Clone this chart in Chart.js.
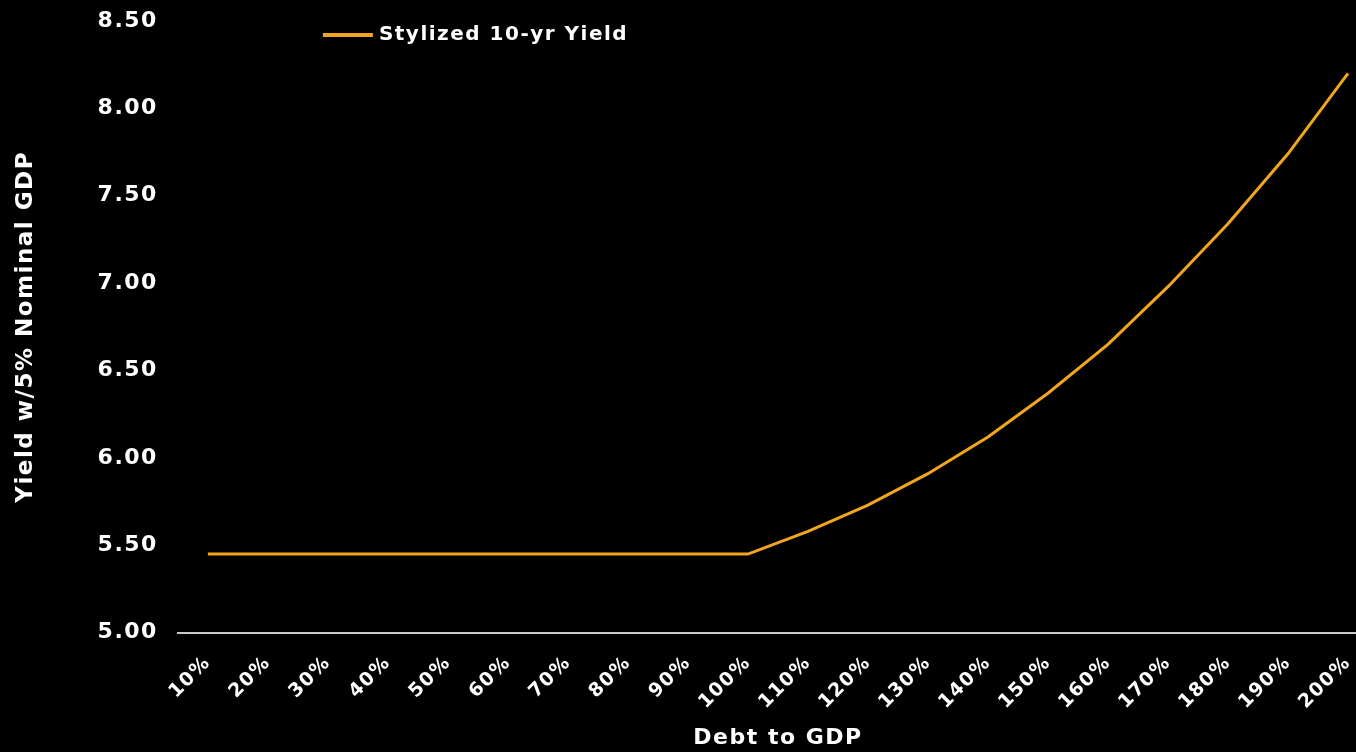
<!DOCTYPE html>
<html lang="en">
<head>
    <meta charset="UTF-8">
    <title>Stylized 10-yr Yield</title>
    <script src="https://cdn.jsdelivr.net/npm/chart.js"></script>
    <style>
        html, body { margin: 0; padding: 0; background: #000; overflow: hidden; }
        .wrap { width: 1356px; height: 752px; overflow: hidden; }
        canvas { display: block; }
    </style>
</head>
<body>
    <div class="wrap">
        <canvas id="yieldChart" width="1386" height="752"></canvas>
    </div>
<script>
    // Données
    const debtLabels = ['10%', '20%', '30%', '40%', '50%', '60%', '70%', '80%', '90%', '100%',
        '110%', '120%', '130%', '140%', '150%', '160%', '170%', '180%', '190%', '200%'];
    const yieldValues = [5.45, 5.45, 5.45, 5.45, 5.45, 5.45, 5.45, 5.45, 5.45, 5.45,
        5.58, 5.73, 5.91, 6.12, 6.37, 6.65, 6.98, 7.34, 7.74, 8.20];
    const seriesName = 'Stylized 10-yr Yield';
    const yTicks = [5.0, 5.5, 6.0, 6.5, 7.0, 7.5, 8.0, 8.5];

    const orange = '#f2a61f';
    const fontFamily = "'DejaVu Sans', Verdana, sans-serif";

    // Espacement des lettres (police plus large que DejaVu dans l'original)
    const spacing = {
        id: 'spacing',
        beforeLayout(chart) { chart.ctx.letterSpacing = '1.5px'; },
        beforeDraw(chart) { chart.ctx.letterSpacing = '1.5px'; }
    };

    // Légende dessinée dans la zone du graphique
    const insideLegend = {
        id: 'insideLegend',
        afterDraw(chart) {
            const ctx = chart.ctx;
            const x = chart.chartArea.left + 145;
            const y = 35;
            ctx.save();
            ctx.strokeStyle = orange;
            ctx.lineWidth = 4;
            ctx.beginPath();
            ctx.moveTo(x, y);
            ctx.lineTo(x + 50, y);
            ctx.stroke();
            ctx.fillStyle = '#fff';
            ctx.font = 'bold 20px ' + fontFamily;
            ctx.textBaseline = 'middle';
            ctx.fillText(chart.data.datasets[0].label, x + 56, y);
            ctx.restore();
        }
    };

    new Chart(document.getElementById('yieldChart'), {
        type: 'line',
        data: {
            labels: debtLabels,
            datasets: [{
                label: seriesName,
                data: yieldValues,
                borderColor: orange,
                borderWidth: 3,
                pointRadius: 0,
                tension: 0,
                fill: false
            }]
        },
        options: {
            responsive: false,
            animation: false,
            layout: { padding: { left: 12, right: 8, top: 0, bottom: 1 } },
            plugins: {
                legend: { display: false },
                tooltip: { enabled: false }
            },
            scales: {
                x: {
                    offset: true,
                    grid: { display: false },
                    border: { display: true, color: '#c8c8c8', width: 2 },
                    afterFit: (s) => { s.paddingLeft = 0; s.paddingRight = 0; },
                    ticks: {
                        color: '#fff',
                        font: { family: fontFamily, size: 19, weight: 'bold' },
                        minRotation: 45,
                        maxRotation: 45,
                        autoSkip: false,
                        padding: 11
                    },
                    title: {
                        display: true,
                        text: 'Debt to GDP',
                        color: '#fff',
                        font: { family: fontFamily, size: 22, weight: 'bold' },
                        padding: { top: 0, bottom: 0 }
                    }
                },
                y: {
                    min: 5,
                    max: 8.5,
                    afterBuildTicks: (axis) => { axis.ticks = yTicks.map(v => ({ value: v })); },
                    afterFit: (s) => { s.paddingTop = 21; s.paddingBottom = 0; },
                    grid: { display: false },
                    border: { display: false },
                    ticks: {
                        color: '#fff',
                        font: { family: fontFamily, size: 22, weight: 'bold' },
                        padding: 12,
                        callback: (v) => Number(v).toFixed(2)
                    },
                    title: {
                        display: true,
                        text: 'Yield w/5% Nominal GDP',
                        color: '#fff',
                        font: { family: fontFamily, size: 23, weight: 'bold' },
                        padding: { top: 0, bottom: 46 }
                    }
                }
            }
        },
        plugins: [spacing, insideLegend]
    });
</script>
</body>
</html>
